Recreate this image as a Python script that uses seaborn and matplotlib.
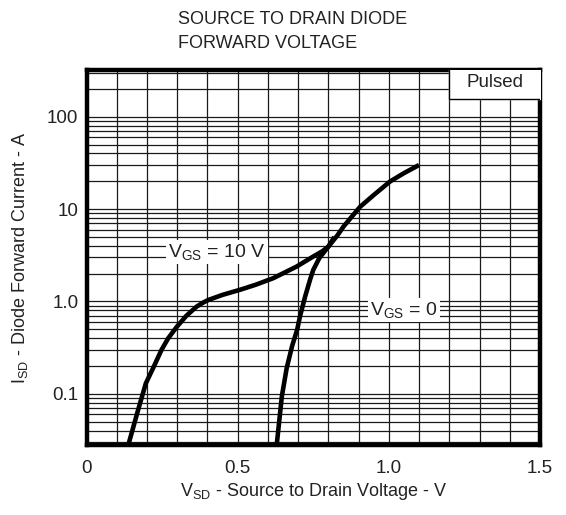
import numpy as np
import pandas as pd
import matplotlib
matplotlib.use("Agg")
import matplotlib.pyplot as plt
import seaborn as sns
from matplotlib.ticker import FixedLocator, LogLocator, NullFormatter, FixedFormatter

# ---- data ----
v_gs10 = [0.138, 0.171, 0.196, 0.22, 0.248, 0.27, 0.298, 0.33, 0.364, 0.385, 0.403, 0.45,
          0.508, 0.56, 0.618, 0.695, 0.75, 0.78, 0.80, 0.83, 0.85, 0.905, 0.95, 1.004, 1.05, 1.10]
i_gs10 = [0.028, 0.068, 0.13, 0.19, 0.30, 0.40, 0.53, 0.70, 0.88, 0.97, 1.04, 1.18,
          1.34, 1.52, 1.79, 2.39, 3.07, 3.5, 3.93, 5.2, 6.47, 10.6, 14.2, 19.9, 24.5, 30.0]

v_gs0 = [0.629, 0.646, 0.662, 0.680, 0.697, 0.706, 0.723, 0.74, 0.75, 0.77, 0.80, 0.82]
i_gs0 = [0.028, 0.094, 0.19, 0.33, 0.50, 0.69, 1.13, 1.75, 2.2, 2.95, 3.93, 5.0]

x_ticks = [0, 0.5, 1.0, 1.5]
x_ticklabels = ["0", "0.5", "1.0", "1.5"]
y_ticks = [0.1, 1.0, 10, 100]
y_ticklabels = ["0.1", "1.0", "10", "100"]

title = "SOURCE TO DRAIN DIODE\nFORWARD VOLTAGE"

df = pd.concat([
    pd.DataFrame({"V": v_gs10, "I": i_gs10, "s": "10"}),
    pd.DataFrame({"V": v_gs0, "I": i_gs0, "s": "0"}),
])

sns.set_style("white")
plt.rcParams["font.family"] = ["Liberation Sans", "DejaVu Sans"]
plt.rcParams["mathtext.fontset"] = "custom"
plt.rcParams["mathtext.rm"] = "Liberation Sans"
plt.rcParams["mathtext.it"] = "Liberation Sans"

fig = plt.figure(figsize=(5.66, 5.15), dpi=100)
ax = fig.add_axes([0.153, 0.136, 0.801, 0.728])

sns.lineplot(data=df, x="V", y="I", units="s", estimator=None, sort=False,
             color="black", lw=3.3, ax=ax, zorder=5)
for ln in ax.lines:
    ln.set_solid_joinstyle("round")
    ln.set_solid_capstyle("butt")

ax.set_yscale("log")
ax.set_xlim(0, 1.5)
ax.set_ylim(0.028, 320)

# grid
ax.xaxis.set_major_locator(FixedLocator(x_ticks))
ax.xaxis.set_major_formatter(FixedFormatter(x_ticklabels))
ax.xaxis.set_minor_locator(FixedLocator(np.arange(0.1, 1.5, 0.1)))
ax.yaxis.set_major_locator(FixedLocator(y_ticks))
ax.yaxis.set_major_formatter(FixedFormatter(y_ticklabels))
ax.yaxis.set_minor_locator(LogLocator(base=10, subs=np.arange(2, 10)))
ax.yaxis.set_minor_formatter(NullFormatter())
ax.grid(True, which="both", color="#1a1a1a", lw=0.9)
ax.set_axisbelow(True)
ax.tick_params(which="both", length=0, labelsize=13.5, colors="#222222")
ax.tick_params(axis="x", pad=11)
ax.tick_params(axis="y", pad=6)

for sp in ax.spines.values():
    sp.set_visible(True)
    sp.set_linewidth(3.2)
    sp.set_color("black")

# Pulsed box
ax.fill_between([1.2, 1.5], 154, 320, color="white", zorder=3)
ax.plot([1.2, 1.2, 1.5], [320, 154, 154], color="black", lw=1.0, zorder=4)
ax.text(1.35, 232, "Pulsed", ha="center", va="center", fontsize=13.5, color="#222222", zorder=6)

# curve labels
bbox = dict(facecolor="white", edgecolor="none", pad=1.5)
ax.text(0.43, 3.45, r"V$_{\mathrm{GS}}$ = 10 V", ha="center", va="center",
        fontsize=14, color="#222222", bbox=bbox, zorder=6)
ax.text(1.05, 0.81, r"V$_{\mathrm{GS}}$ = 0", ha="center", va="center",
        fontsize=14, color="#222222", bbox=bbox, zorder=6)

ax.set_xlabel(r"V$_{\mathrm{SD}}$ - Source to Drain Voltage - V", fontsize=13,
              color="#222222", labelpad=3)
ax.set_ylabel(r"I$_{\mathrm{SD}}$ - Diode Forward Current - A", fontsize=13,
              color="#222222", labelpad=12)

fig.text(0.315, 0.978, title, ha="left", va="top", fontsize=13,
         color="#222222", linespacing=1.55)

fig.savefig("out.png", dpi=100, facecolor="white")
